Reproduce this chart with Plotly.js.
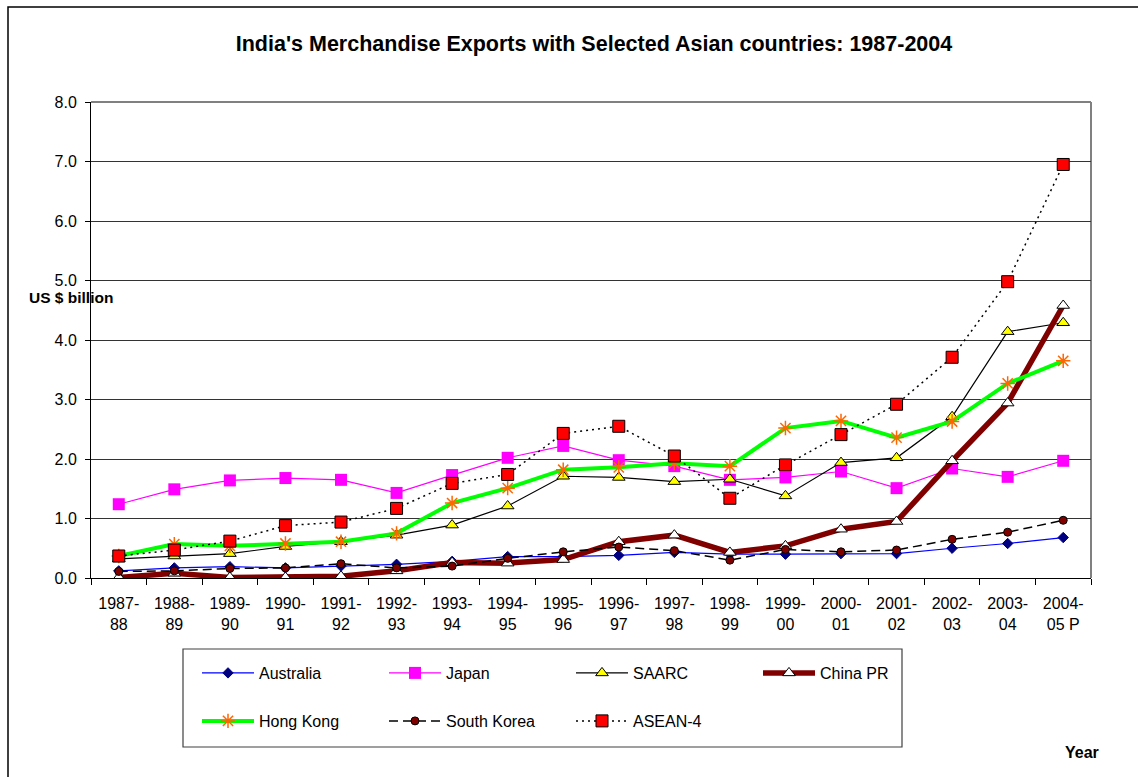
<!DOCTYPE html>
<html>
<head>
<meta charset="utf-8">
<script src="https://cdn.plot.ly/plotly-3.0.1.min.js"></script>
<style>html,body{margin:0;padding:0;background:#fff;}#chart{width:1138px;height:777px;}</style>
</head>
<body>
<div id="chart"></div>
<script>
var years = ["1987-<br>88","1988-<br>89","1989-<br>90","1990-<br>91","1991-<br>92","1992-<br>93","1993-<br>94","1994-<br>95","1995-<br>96","1996-<br>97","1997-<br>98","1998-<br>99","1999-<br>00","2000-<br>01","2001-<br>02","2002-<br>03","2003-<br>04","2004-<br>05 P"];

var australia  = [0.12,0.17,0.19,0.17,0.20,0.23,0.28,0.36,0.36,0.38,0.43,0.40,0.40,0.41,0.41,0.50,0.58,0.68];
var japan      = [1.24,1.49,1.64,1.68,1.65,1.43,1.73,2.02,2.22,1.98,1.88,1.65,1.69,1.79,1.51,1.84,1.70,1.97];
var saarc      = [0.32,0.37,0.41,0.53,0.61,0.72,0.89,1.21,1.71,1.69,1.62,1.66,1.38,1.94,2.02,2.71,4.14,4.29];
var chinaPR    = [0.01,0.08,0.01,0.01,0.03,0.12,0.26,0.25,0.31,0.61,0.72,0.43,0.54,0.82,0.95,1.97,2.94,4.58];
var hongKong   = [0.37,0.57,0.54,0.58,0.61,0.75,1.26,1.51,1.82,1.86,1.93,1.88,2.52,2.64,2.36,2.63,3.27,3.65];
var southKorea = [0.11,0.12,0.16,0.17,0.24,0.17,0.20,0.33,0.44,0.52,0.46,0.30,0.48,0.44,0.47,0.65,0.77,0.97];
var asean4     = [0.37,0.47,0.62,0.88,0.94,1.17,1.59,1.74,2.43,2.55,2.05,1.34,1.90,2.41,2.92,3.71,4.98,6.95];

var FONT = "Liberation Sans, Arial, sans-serif";

var traces = [
  {name:"Australia", x:years, y:australia, type:"scatter", mode:"lines+markers",
   line:{color:"#0000FF", width:1.2},
   marker:{symbol:"diamond", size:8, color:"#000080", line:{color:"#000080", width:1}}, legend:"legend"},
  {name:"Japan", x:years, y:japan, type:"scatter", mode:"lines+markers",
   line:{color:"#FF00FF", width:1.2},
   marker:{symbol:"square", size:12, color:"#FF00FF", line:{color:"#FF00FF", width:0}}, legend:"legend"},
  {name:"SAARC", x:years, y:saarc, type:"scatter", mode:"lines+markers",
   line:{color:"#000000", width:1.2},
   marker:{symbol:"triangle-up", size:11, color:"#FFFF00", line:{color:"#000000", width:1}}, legend:"legend"},
  {name:"China PR", x:years, y:chinaPR, type:"scatter", mode:"lines+markers",
   line:{color:"#800000", width:5.5},
   marker:{symbol:"triangle-up", size:11, color:"#FFFFFF", line:{color:"#000000", width:1}}, legend:"legend"},
  {name:"Hong Kong", x:years, y:hongKong, type:"scatter", mode:"lines+markers",
   line:{color:"#00FF00", width:4},
   marker:{symbol:"asterisk-open", size:12, color:"#FF6600", line:{width:1.5}}, legend:"legend2"},
  {name:"South Korea", x:years, y:southKorea, type:"scatter", mode:"lines+markers",
   line:{color:"#000000", width:1.5, dash:"9px,5px"},
   marker:{symbol:"circle", size:8, color:"#800000", line:{color:"#000000", width:1}}, legend:"legend2"},
  {name:"ASEAN-4", x:years, y:asean4, type:"scatter", mode:"lines+markers",
   line:{color:"#000000", width:1.5, dash:"2px,4px"},
   marker:{symbol:"square", size:12, color:"#FF0000", line:{color:"#000000", width:1}}, legend:"legend2"}
];

var legendCommon = {
  orientation:"h", xanchor:"left", yanchor:"middle",
  font:{family:FONT, size:16, color:"#000"},
  bgcolor:"rgba(0,0,0,0)", borderwidth:0, entrywidth:120, itemwidth:52
};

var layout = {
  width:1138, height:777,
  margin:{l:91, r:47, t:102, b:199},
  paper_bgcolor:"#FFFFFF", plot_bgcolor:"#FFFFFF",
  font:{family:FONT, size:16, color:"#000"},
  title:{text:"<b>India's Merchandise Exports with Selected Asian countries: 1987-2004</b>",
         font:{family:FONT, size:21.5, color:"#000"},
         xref:"container", yref:"container", x:594/1138, y:1-43/777, xanchor:"center", yanchor:"middle"},
  xaxis:{type:"category", range:[-0.5,17.5], tickson:"boundaries", ticks:"outside", ticklen:6,
         tickcolor:"#000", showline:true, linecolor:"#000", linewidth:1, showgrid:false, zeroline:false,
         ticklabelstandoff:11,
         tickfont:{family:FONT, size:16, color:"#000"}, fixedrange:true},
  yaxis:{range:[0,8], dtick:1, tick0:0, tickformat:".1f", ticks:"outside", ticklen:5, tickcolor:"#000",
         showline:true, linecolor:"#000", linewidth:1, showgrid:true, gridcolor:"#333333", gridwidth:1,
         ticklabelstandoff:5,
         zeroline:false, tickfont:{family:FONT, size:16, color:"#000"}, fixedrange:true},
  showlegend:true,
  legend: Object.assign({}, legendCommon, {x:(197-91)/1000, y:(578-673)/476}),
  legend2: Object.assign({}, legendCommon, {x:(197-91)/1000, y:(578-721)/476}),
  annotations:[
    {text:"<b>US $ billion</b>", xref:"paper", yref:"paper", x:(27-91)/1000, y:(578-297)/476,
     xanchor:"left", yanchor:"middle", showarrow:false, font:{family:FONT, size:15.5, color:"#000"}},
    {text:"<b>Year</b>", xref:"paper", yref:"paper", x:(1063-91)/1000, y:(578-752)/476,
     xanchor:"left", yanchor:"middle", showarrow:false, font:{family:FONT, size:16, color:"#000"}}
  ],
  shapes:[
    {type:"rect", xref:"paper", yref:"paper", layer:"below",
     x0:(8-91)/1000, x1:(1150-91)/1000, y0:(578-800)/476, y1:(578-7)/476,
     line:{color:"#000", width:1.5}, fillcolor:"rgba(0,0,0,0)"},
    {type:"line", xref:"paper", yref:"paper", layer:"below", x0:0, x1:1, y0:1, y1:1,
     line:{color:"#808080", width:2}},
    {type:"line", xref:"paper", yref:"paper", layer:"below", x0:1, x1:1, y0:0, y1:1,
     line:{color:"#808080", width:2}},
    {type:"rect", xref:"paper", yref:"paper", layer:"below",
     x0:(183-91)/1000, x1:(902-91)/1000, y0:(578-747)/476, y1:(578-649)/476,
     line:{color:"#404040", width:1.2}, fillcolor:"rgba(0,0,0,0)"}
  ]
};

Plotly.newPlot("chart", traces, layout, {staticPlot:true, displayModeBar:false});
</script>
</body>
</html>
